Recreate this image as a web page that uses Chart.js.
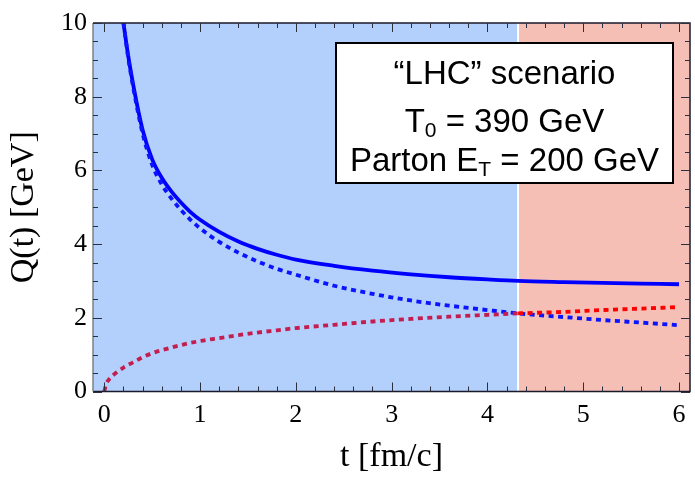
<!DOCTYPE html>
<html>
<head>
<meta charset="utf-8">
<script src="https://cdn.jsdelivr.net/npm/chart.js@4.4.1/dist/chart.umd.min.js"></script>
<style>
html,body{margin:0;padding:0;background:#fff;}
#wrap{width:695px;height:481px;position:relative;}
</style>
</head>
<body>
<div id="wrap"><canvas id="c" width="695" height="481"></canvas></div>
<script>
// ---- data ----
const solidT   = [0.2, 0.25, 0.3, 0.4, 0.5, 0.6, 0.7, 0.8, 0.9, 1.0, 1.2, 1.4, 1.6, 1.8, 2.0, 2.4, 2.8, 3.2, 3.6, 4.0, 4.32, 4.8, 5.2, 5.6, 6.0];
const solidQ   = [10.0, 9.1, 8.35, 7.1, 6.3, 5.8, 5.43, 5.13, 4.87, 4.66, 4.33, 4.07, 3.87, 3.71, 3.58, 3.41, 3.28, 3.18, 3.10, 3.04, 3.00, 2.97, 2.95, 2.93, 2.91];
const dashBlueT = [0.2, 0.25, 0.3, 0.4, 0.5, 0.6, 0.7, 0.8, 0.9, 1.0, 1.2, 1.4, 1.6, 1.8, 2.0, 2.4, 2.8, 3.2, 3.6, 4.0, 4.32, 4.8, 5.2, 5.6, 6.0];
const dashBlueQ = [10.0, 9.05, 8.28, 7.0, 6.15, 5.62, 5.24, 4.93, 4.66, 4.43, 4.06, 3.77, 3.53, 3.33, 3.17, 2.87, 2.65, 2.47, 2.33, 2.21, 2.12, 2.02, 1.94, 1.87, 1.80];
const dashRedT  = [0, 0.02, 0.05, 0.1, 0.2, 0.3, 0.4, 0.5, 0.6, 0.8, 1.0, 1.2, 1.4, 1.6, 1.8, 2.0, 2.4, 2.8, 3.2, 3.6, 4.0, 4.32, 4.8, 5.2, 5.6, 6.0];
const dashRedQ  = [0, 0.2, 0.33, 0.46, 0.65, 0.79, 0.93, 1.04, 1.12, 1.26, 1.37, 1.45, 1.53, 1.6, 1.66, 1.72, 1.81, 1.90, 1.97, 2.03, 2.08, 2.12, 2.16, 2.21, 2.25, 2.29];
const boundaryT = 4.32;
const xTickValues = [0, 1, 2, 3, 4, 5, 6];
const yTickValues = [0, 2, 4, 6, 8, 10];
const boxLines = [
  [{t:'\u201CLHC\u201D scenario'}],
  [{t:'T'}, {t:'0', sub:true}, {t:' = 390 GeV'}],
  [{t:'Parton E'}, {t:'T', sub:true}, {t:' = 200 GeV'}]
];

const toPts = (xs, ys) => xs.map((x, i) => ({x: x, y: ys[i]}));

const BLUE_BG = 'rgb(179,207,251)';
const RED_BG  = 'rgb(245,191,181)';
const CRIMSON = 'rgb(196,30,80)';
const RED     = 'rgb(255,0,0)';

const regionsPlugin = {
  id: 'regions',
  beforeDatasetsDraw(chart) {
    const {ctx, chartArea: a, scales: {x}} = chart;
    const xb = x.getPixelForValue(boundaryT);
    ctx.save();
    ctx.fillStyle = BLUE_BG;
    ctx.fillRect(a.left, a.top, xb - a.left, a.bottom - a.top);
    ctx.fillStyle = RED_BG;
    ctx.fillRect(xb, a.top, a.right - xb, a.bottom - a.top);
    ctx.strokeStyle = '#ffffff';
    ctx.lineWidth = 2;
    ctx.beginPath();
    ctx.moveTo(xb, a.top); ctx.lineTo(xb, a.bottom);
    ctx.stroke();
    ctx.restore();
  },
  afterDraw(chart) {
    const {ctx, chartArea: a, scales: {x, y}} = chart;
    ctx.save();
    // frame
    ctx.lineWidth = 1.5;
    ctx.strokeStyle = '#1a1a2a';
    ctx.beginPath();
    ctx.moveTo(a.left, a.top); ctx.lineTo(a.right, a.top); ctx.lineTo(a.right, a.bottom); ctx.lineTo(a.left, a.bottom);
    ctx.stroke();
    ctx.strokeStyle = '#808080';
    ctx.beginPath();
    ctx.moveTo(a.left, a.bottom); ctx.lineTo(a.left, a.top);
    ctx.stroke();
    // inward ticks
    ctx.strokeStyle = '#2a3040';
    ctx.lineWidth = 1;
    for (let k = 0; k <= 30; k++) {
      const v = k * 0.2;
      const px = Math.round(x.getPixelForValue(v)) + 0.5;
      const L = (k % 5 === 0) ? 9 : 5;
      ctx.beginPath();
      ctx.moveTo(px, a.bottom); ctx.lineTo(px, a.bottom - L);
      ctx.moveTo(px, a.top); ctx.lineTo(px, a.top + L);
      ctx.stroke();
    }
    for (let k = 0; k <= 20; k++) {
      const v = k * 0.5;
      const py = Math.round(y.getPixelForValue(v)) + 0.5;
      const L = (k % 4 === 0) ? 9 : 5;
      ctx.beginPath();
      ctx.moveTo(a.left, py); ctx.lineTo(a.left + L, py);
      ctx.moveTo(a.right, py); ctx.lineTo(a.right - L, py);
      ctx.stroke();
    }
    // text box
    const bx = a.left + 243, by = a.top + 20, bw = 337, bh = 140;
    ctx.fillStyle = '#ffffff';
    ctx.fillRect(bx, by, bw, bh);
    ctx.strokeStyle = '#000000';
    ctx.lineWidth = 2;
    ctx.strokeRect(bx, by, bw, bh);
    const cx = bx + bw / 2;
    const mainFont = '33px "Liberation Sans", Arial, sans-serif';
    const subFont = '21px "Liberation Sans", Arial, sans-serif';
    ctx.fillStyle = '#000';
    ctx.textBaseline = 'alphabetic';
    ctx.textAlign = 'left';
    const baselines = [by + 41, by + 89, by + 128];
    boxLines.forEach((parts, i) => {
      let w = 0;
      parts.forEach(p => { ctx.font = p.sub ? subFont : mainFont; w += ctx.measureText(p.t).width; });
      let xx = cx - w / 2;
      parts.forEach(p => {
        ctx.font = p.sub ? subFont : mainFont;
        ctx.fillText(p.t, xx, baselines[i] + (p.sub ? 5 : 0));
        xx += ctx.measureText(p.t).width;
      });
    });
    ctx.restore();
  }
};

new Chart(document.getElementById('c'), {
  type: 'scatter',
  data: {
    datasets: [
      {
        label: 'dashed red',
        data: toPts(dashRedT, dashRedQ),
        showLine: true,
        borderWidth: 3.8,
        borderDash: [5, 4.5],
        borderColor: CRIMSON,
        segment: { borderColor: c => (c.p0.parsed.x >= boundaryT ? RED : CRIMSON) },
        pointRadius: 0,
        cubicInterpolationMode: 'monotone',
        fill: false
      },
      {
        label: 'dashed blue',
        data: toPts(dashBlueT, dashBlueQ),
        showLine: true,
        borderWidth: 3.8,
        borderDash: [5, 4.5],
        borderColor: 'rgb(10,20,255)',
        pointRadius: 0,
        cubicInterpolationMode: 'monotone',
        fill: false
      },
      {
        label: 'solid blue',
        data: toPts(solidT, solidQ),
        showLine: true,
        borderWidth: 3.8,
        borderColor: 'rgb(0,0,255)',
        pointRadius: 0,
        cubicInterpolationMode: 'monotone',
        fill: false
      }
    ]
  },
  options: {
    responsive: false,
    animation: false,
    events: [],
    layout: { padding: { top: 23, right: 5, bottom: 0, left: 0 } },
    plugins: { legend: { display: false }, tooltip: { enabled: false } },
    scales: {
      x: {
        type: 'linear',
        min: -0.118,
        max: 6.115,
        afterFit(s) { s.height = 89.5; },
        afterBuildTicks(s) { s.ticks = xTickValues.map(v => ({value: v})); },
        grid: { display: false, drawTicks: false },
        border: { display: false },
        ticks: {
          padding: 8,
          color: '#000',
          font: { family: '"Liberation Serif", "Times New Roman", serif', size: 26 },
          callback: v => String(v)
        },
        title: {
          display: true,
          text: 't [fm/c]',
          color: '#000',
          font: { family: '"Liberation Serif", "Times New Roman", serif', size: 34 },
          padding: { top: 0, bottom: 4 }
        }
      },
      y: {
        type: 'linear',
        min: 0,
        max: 10,
        afterFit(s) { s.width = 93; },
        afterBuildTicks(s) { s.ticks = yTickValues.map(v => ({value: v})); },
        grid: { display: false, drawTicks: false },
        border: { display: false },
        ticks: {
          padding: 6,
          color: '#000',
          font: { family: '"Liberation Serif", "Times New Roman", serif', size: 26 },
          callback: v => String(v)
        },
        title: {
          display: true,
          text: 'Q(t) [GeV]',
          color: '#000',
          font: { family: '"Liberation Serif", "Times New Roman", serif', size: 34 },
          padding: { top: 4, bottom: 0 }
        }
      }
    }
  },
  plugins: [regionsPlugin]
});
</script>
</body>
</html>
